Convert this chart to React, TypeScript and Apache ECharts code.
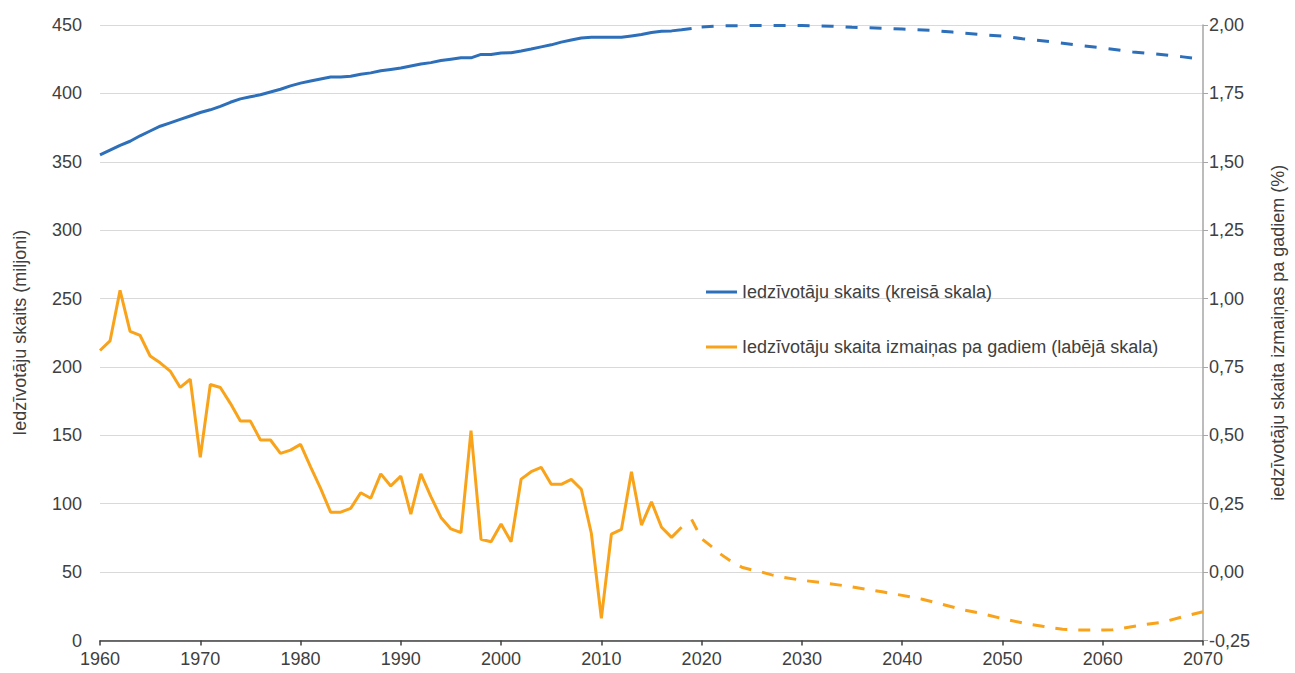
import React, { useEffect, useRef } from "react";
import * as echarts from "echarts";

const START_YEAR = 1960;

// Population (millions), actual 1960-2019
const populationActual = [
  355, 358.5, 362, 365, 369, 372.5, 376, 378.5, 381, 383.5,
  386, 388, 390.5, 393.5, 396, 397.5, 399, 401, 403, 405.5,
  407.5, 409, 410.5, 412, 412, 412.5, 414, 415, 416.5, 417.5,
  418.5, 420, 421.5, 422.5, 424, 425, 426, 426, 428.5, 428.5,
  429.5, 429.7, 431, 432.4, 434, 435.5, 437.5, 439, 440.5, 441,
  441, 441, 441, 442, 443, 444.5, 445.5, 445.7, 446.5, 447.5,
];

// Population projection
const projectionYears = [2020, 2022, 2025, 2030, 2033, 2035, 2038, 2040, 2043, 2045, 2048, 2050, 2052, 2055, 2058, 2060, 2063, 2065, 2068, 2070];
const populationProjection = [448.6, 449.4, 449.6, 449.6, 449.1, 448.4, 447.6, 447, 446, 444.8, 443, 441.8, 440, 437.6, 434.8, 433.2, 430.3, 429, 426.7, 425];

// Annual change (%), actual 1960-2018
const changeActual = [
  0.81, 0.845, 1.03, 0.88, 0.865, 0.79, 0.765, 0.735, 0.675, 0.705,
  0.42, 0.686, 0.675, 0.617, 0.552, 0.552, 0.483, 0.483, 0.434, 0.446,
  0.467, 0.385, 0.306, 0.219, 0.219, 0.233, 0.29, 0.27, 0.359, 0.315,
  0.351, 0.212, 0.359, 0.276, 0.2, 0.158, 0.144, 0.517, 0.12, 0.111,
  0.176, 0.111, 0.34, 0.367, 0.383, 0.321, 0.321, 0.339, 0.303, 0.142,
  -0.169, 0.139, 0.156, 0.367, 0.172, 0.257, 0.164, 0.127, 0.164,
];

// Annual change projection
const changeProjYears = [2019, 2020, 2021, 2022, 2023, 2024, 2025, 2026, 2027, 2028, 2030, 2032, 2035, 2038, 2040, 2042, 2044, 2046, 2048, 2050, 2052, 2054, 2056, 2058, 2060, 2061, 2062, 2064, 2066, 2068, 2070];
const changeProjection = [0.193, 0.122, 0.093, 0.063, 0.038, 0.018, 0.008, 0.0, -0.01, -0.018, -0.03, -0.038, -0.054, -0.072, -0.085, -0.099, -0.118, -0.137, -0.152, -0.17, -0.186, -0.198, -0.209, -0.212, -0.212, -0.211, -0.205, -0.193, -0.183, -0.163, -0.145];

const xTicks = { min: 1960, max: 2070, interval: 10 };
const leftTicks = { min: 0, max: 450, interval: 50 };
const rightTicks = { min: -0.25, max: 2, interval: 0.25 };

const NAME_POP = "Iedzīvotāju skaits (kreisā skala)";
const NAME_CHG = "Iedzīvotāju skaita izmaiņas pa gadiem (labējā skala)";

const BLUE = "#2e6fba";
const ORANGE = "#f9a31b";
const TEXT = "#404040";
const FONT = "'Liberation Sans', Arial, sans-serif";
const FS = 18;

export default function App() {
  const ref = useRef<HTMLDivElement>(null);
  useEffect(() => {
    document.body.style.margin = "0";
    if (!ref.current) return;
    const chart = echarts.init(ref.current, undefined, { renderer: "svg" });
    const popA = populationActual.map((v, i) => [START_YEAR + i, v]);
    const popP = projectionYears.map((y, i) => [y, populationProjection[i]]);
    const chgA = changeActual.map((v, i) => [START_YEAR + i, v]);
    const chgP = changeProjYears.map((y, i) => [y, changeProjection[i]]);
    chart.setOption({
      animation: false,
      textStyle: { fontFamily: FONT, color: TEXT },
      grid: { left: 100, right: 86, top: 25, bottom: 32.5, containLabel: false },
      legend: {
        data: [
          { name: NAME_POP, icon: "rect" },
          { name: NAME_CHG, icon: "rect" },
        ],
        orient: "vertical",
        left: 701,
        top: 278,
        itemGap: 37,
        itemWidth: 31,
        itemHeight: 3,
        textStyle: { fontSize: FS, color: TEXT, fontFamily: FONT },
        selectedMode: false,
      },
      xAxis: {
        type: "value",
        ...xTicks,
        axisLine: { show: true, lineStyle: { color: "#404040", width: 1.5 } },
        axisTick: { show: true, length: 5, lineStyle: { color: "#404040", width: 1.5 } },
        splitLine: { show: false },
        axisLabel: { fontSize: FS, color: TEXT, margin: 9, formatter: (v: number) => String(v) },
      },
      yAxis: [
        {
          type: "value",
          ...leftTicks,
          position: "left",
          name: "Iedzīvotāju skaits (miljoni)",
          nameLocation: "middle",
          nameRotate: 90,
          nameGap: 71,
          nameTextStyle: { fontSize: FS, color: TEXT },
          axisLine: { show: false },
          axisTick: { show: false },
          splitLine: { show: true, lineStyle: { color: "#d9d9d9", width: 1 } },
          axisLabel: { fontSize: FS, color: TEXT, margin: 18 },
        },
        {
          type: "value",
          ...rightTicks,
          position: "right",
          name: "iedzīvotāju skaita izmaiņas pa gadiem (%)",
          nameLocation: "middle",
          nameRotate: 90,
          nameGap: 66,
          nameTextStyle: { fontSize: FS, color: TEXT },
          axisLine: { show: true, lineStyle: { color: "#a6a6a6", width: 1.5 } },
          axisTick: { show: true, length: 5, inside: false, lineStyle: { color: "#a6a6a6" } },
          splitLine: { show: false },
          axisLabel: {
            fontSize: FS,
            color: TEXT,
            margin: 6,
            formatter: (v: number) => v.toFixed(2).replace(".", ","),
          },
        },
      ],
      series: [
        {
          name: NAME_POP,
          type: "line",
          yAxisIndex: 0,
          data: popA,
          symbol: "none",
          lineStyle: { color: BLUE, width: 3 },
          itemStyle: { color: BLUE },
        },
        {
          name: NAME_POP,
          type: "line",
          yAxisIndex: 0,
          data: popP,
          symbol: "none",
          lineStyle: { color: BLUE, width: 3, type: [12, 12] },
          itemStyle: { color: BLUE },
        },
        {
          name: NAME_CHG,
          type: "line",
          yAxisIndex: 1,
          data: chgA,
          symbol: "none",
          lineStyle: { color: ORANGE, width: 3 },
          itemStyle: { color: ORANGE },
        },
        {
          name: NAME_CHG,
          type: "line",
          yAxisIndex: 1,
          data: chgP,
          symbol: "none",
          lineStyle: { color: ORANGE, width: 3, type: [12, 11] },
          itemStyle: { color: ORANGE },
        },
      ],
    });
    return () => chart.dispose();
  }, []);
  return <div ref={ref} style={{ width: 1295, height: 673 }} />;
}
